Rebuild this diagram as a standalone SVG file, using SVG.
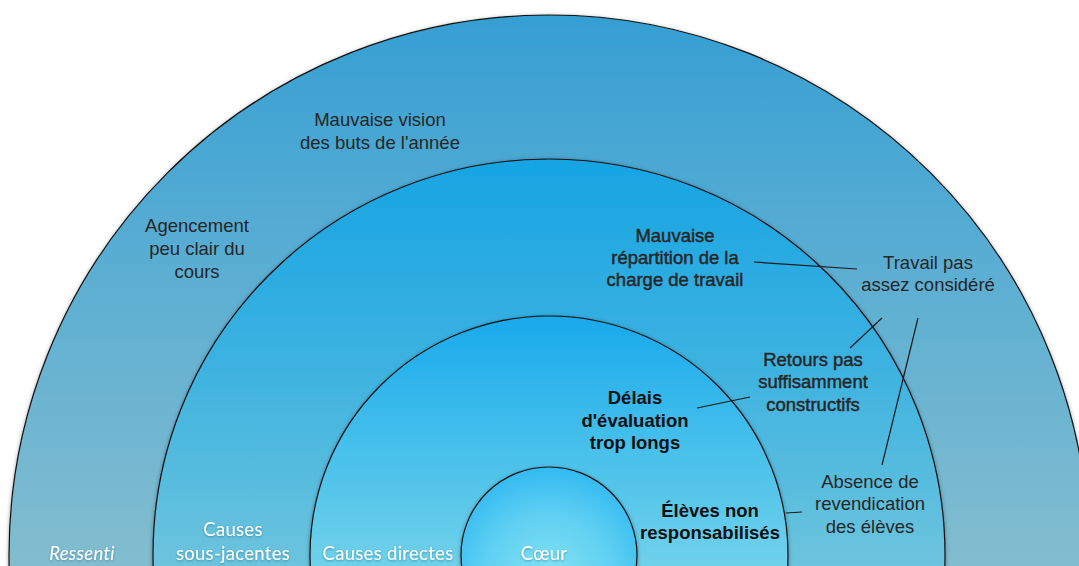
<svg xmlns="http://www.w3.org/2000/svg" width="1079" height="566" viewBox="0 0 1079 566">
  <defs>
    <linearGradient id="gOuter" gradientUnits="userSpaceOnUse" x1="0" y1="15" x2="0" y2="566">
      <stop offset="0" stop-color="#359fd3"/>
      <stop offset="0.5" stop-color="#5eafd2"/>
      <stop offset="1" stop-color="#82bdcf"/>
    </linearGradient>
    <linearGradient id="gUnder" gradientUnits="userSpaceOnUse" x1="0" y1="159" x2="0" y2="566">
      <stop offset="0" stop-color="#17a4e3"/>
      <stop offset="0.5" stop-color="#3cb2e0"/>
      <stop offset="1" stop-color="#6cc4dd"/>
    </linearGradient>
    <linearGradient id="gDirect" gradientUnits="userSpaceOnUse" x1="0" y1="316" x2="0" y2="566">
      <stop offset="0" stop-color="#19a9ec"/>
      <stop offset="0.5" stop-color="#44bfeb"/>
      <stop offset="1" stop-color="#70d1ea"/>
    </linearGradient>
    <radialGradient id="gCore" gradientUnits="userSpaceOnUse" cx="549" cy="580" r="110">
      <stop offset="0" stop-color="#86e3f3"/>
      <stop offset="0.6" stop-color="#5fd0f2"/>
      <stop offset="1" stop-color="#35bbf2"/>
    </radialGradient>
    <filter id="shade" x="-10%" y="-10%" width="120%" height="120%">
      <feDropShadow dx="0" dy="1" stdDeviation="2" flood-color="#000" flood-opacity="0.35"/>
    </filter>
    <filter id="glow" x="-20%" y="-40%" width="140%" height="180%">
      <feDropShadow dx="0" dy="1" stdDeviation="1.2" flood-color="#1a4a60" flood-opacity="0.45"/>
    </filter>
  </defs>
  <style>
    .ring { stroke: #111; stroke-width: 1.2; }
    .txt { font-family: "Liberation Sans", Arial, sans-serif; font-size: 18.5px; fill: #262626; text-anchor: middle; }
    .med { stroke: #262626; stroke-width: 0.45; }
    .bold { font-weight: bold; fill: #111; }
    .layer { font-family: Lato, "Open Sans", sans-serif; font-size: 18.5px; fill: #ffffff; text-anchor: middle; letter-spacing: 0.3px; }
    .link { stroke: #1a1a1a; stroke-width: 1.2; fill: none; }
  </style>

  <!-- concentric layers -->
  <g id="ring-ressenti">
    <circle class="ring" cx="549" cy="555" r="540" fill="url(#gOuter)" filter="url(#shade)"/>
  </g>
  <g id="ring-sous-jacentes">
    <circle class="ring" cx="549" cy="555" r="396" fill="url(#gUnder)" filter="url(#shade)"/>
  </g>
  <g id="ring-directes">
    <circle class="ring" cx="549" cy="555" r="239" fill="url(#gDirect)" filter="url(#shade)"/>
  </g>
  <g id="ring-coeur">
    <circle class="ring" cx="549" cy="555" r="88" fill="url(#gCore)" filter="url(#shade)"/>
  </g>

  <!-- layer names -->
  <g id="layer-labels" filter="url(#glow)">
    <text class="layer" x="82" y="560" font-style="italic">Ressenti</text>
    <text class="layer" x="233" y="536">Causes</text>
    <text class="layer" x="233" y="560">sous-jacentes</text>
    <text class="layer" x="388" y="560">Causes directes</text>
    <text class="layer" x="544" y="560">Cœur</text>
  </g>

  <!-- connectors -->
  <g id="connectors">
    <line class="link" x1="754" y1="262" x2="857" y2="269"/>
    <line class="link" x1="850" y1="348" x2="882" y2="318"/>
    <line class="link" x1="882" y1="465" x2="918" y2="318"/>
    <line class="link" x1="697" y1="408" x2="750" y2="397"/>
    <line class="link" x1="786" y1="513" x2="802" y2="512"/>
  </g>

  <!-- outer layer items -->
  <g id="n-vision">
    <text class="txt" x="380" y="126">Mauvaise vision</text>
    <text class="txt" x="380" y="149">des buts de l'année</text>
  </g>
  <g id="n-agencement">
    <text class="txt" x="197" y="232">Agencement</text>
    <text class="txt" x="197" y="255">peu clair du</text>
    <text class="txt" x="197" y="278">cours</text>
  </g>
  <g id="n-travail">
    <text class="txt" x="928" y="269">Travail pas</text>
    <text class="txt" x="928" y="291">assez considéré</text>
  </g>

  <!-- underlying causes -->
  <g id="n-repartition">
    <text class="txt med" x="675" y="242">Mauvaise</text>
    <text class="txt med" x="675" y="264">répartition de la</text>
    <text class="txt med" x="675" y="286">charge de travail</text>
  </g>
  <g id="n-retours">
    <text class="txt med" x="813" y="366">Retours pas</text>
    <text class="txt med" x="813" y="388">suffisamment</text>
    <text class="txt med" x="813" y="411">constructifs</text>
  </g>
  <g id="n-absence">
    <text class="txt" x="870" y="488">Absence de</text>
    <text class="txt" x="870" y="510">revendication</text>
    <text class="txt" x="870" y="533">des élèves</text>
  </g>

  <!-- direct causes -->
  <g id="n-delais">
    <text class="txt bold" x="635" y="404">Délais</text>
    <text class="txt bold" x="635" y="427">d'évaluation</text>
    <text class="txt bold" x="635" y="449">trop longs</text>
  </g>
  <g id="n-eleves">
    <text class="txt bold" x="710" y="517">Élèves non</text>
    <text class="txt bold" x="710" y="539">responsabilisés</text>
  </g>
</svg>
